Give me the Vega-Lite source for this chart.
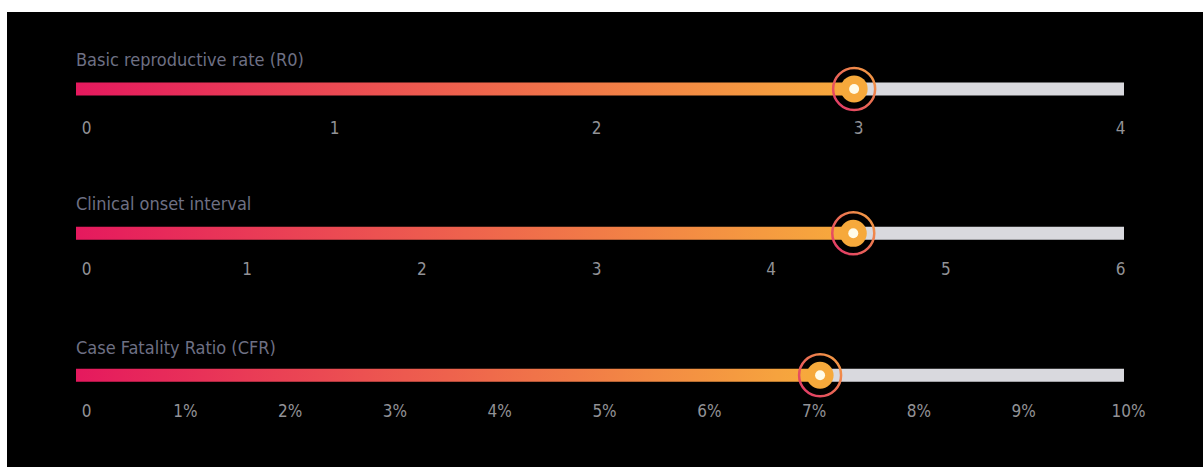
{
  "$schema": "https://vega.github.io/schema/vega-lite/v6.json",
  "background": "white",
  "padding": {"left": 7, "top": 12, "right": 0, "bottom": 0},
  "spacing": 0,
  "config": {
    "view": {"fill": "black", "stroke": null},
    "axis": {
      "domain": false, "ticks": false, "grid": false,
      "labelFont": "Liberation Sans Narrow, DejaVu Sans Condensed, sans-serif",
      "labelFontSize": 17, "labelColor": "#929296", "labelPadding": 0, "labelBaseline": "middle"
    },
    "text": {"font": "Liberation Sans Narrow, DejaVu Sans Condensed, sans-serif", "fontSize": 18, "color": "#6e7084", "align": "left", "baseline": "middle"}
  },
  "vconcat": [
    {
      "width": 1196, "height": 148,
      "data": {"values": [{"metric": "Basic reproductive rate (R0)", "value": 2.97, "max": 4}]},
      "resolve": {"axis": {"x": "independent"}},
      "layer": [
        {"mark": {"type": "bar", "orient": "horizontal", "size": 13, "fill": "#d9d9de"},
         "encoding": {
           "x": {"field": "value", "type": "quantitative", "title": null, "scale": {"domain": [-0.26336, 4.30153], "nice": false, "zero": false},
                 "axis": {"values": [1, 2, 3, 4], "offset": -32, "labelOffset": -4, "labelExpr": "'' + datum.value"}},
           "x2": {"field": "max"},
           "y": {"datum": 0.5236, "type": "quantitative", "title": null, "scale": {"domain": [0, 1], "reverse": true}, "axis": null}
         }},
        {"mark": {"type": "bar", "orient": "horizontal", "size": 13, "fill": {"gradient": "linear", "x1": 0, "y1": 0, "x2": 1, "y2": 0, "stops": [{"offset": 0, "color": "#e5195e"}, {"offset": 1, "color": "#f7ab3c"}]}},
         "encoding": {
           "x": {"field": "value", "type": "quantitative", "title": null, "axis": {"orient": "top", "values": [0], "offset": -116, "labelOffset": 10, "labelExpr": "'' + datum.value"}},
           "y": {"datum": 0.5236, "type": "quantitative"}
         }},
        {"mark": {"type": "point", "shape": "circle", "filled": false, "size": 1764, "strokeWidth": 2.5, "opacity": 1,
                  "stroke": {"gradient": "linear", "x1": 0, "y1": 1, "x2": 1, "y2": 0, "stops": [{"offset": 0, "color": "#e0306a"}, {"offset": 1, "color": "#f5a540"}]}},
         "encoding": {"x": {"field": "value", "type": "quantitative", "axis": null}, "y": {"datum": 0.5236, "type": "quantitative"}}},
        {"mark": {"type": "point", "shape": "circle", "filled": true, "size": 729, "fill": "#f6a93b", "opacity": 1},
         "encoding": {"x": {"field": "value", "type": "quantitative", "axis": null}, "y": {"datum": 0.5236, "type": "quantitative"}}},
        {"mark": {"type": "point", "shape": "circle", "filled": true, "size": 100, "fill": "#fffbe8", "opacity": 1},
         "encoding": {"x": {"field": "value", "type": "quantitative", "axis": null}, "y": {"datum": 0.5236, "type": "quantitative"}}},
        {"mark": {"type": "text"},
         "encoding": {"x": {"datum": 0, "type": "quantitative", "axis": null}, "y": {"datum": 0.2973, "type": "quantitative"}, "text": {"field": "metric", "type": "nominal"}}}
      ]
    },
    {
      "width": 1196, "height": 145,
      "data": {"values": [{"metric": "Clinical onset interval", "value": 4.45, "max": 6}]},
      "resolve": {"axis": {"x": "independent"}},
      "layer": [
        {"mark": {"type": "bar", "orient": "horizontal", "size": 13, "fill": "#d9d9de"},
         "encoding": {
           "x": {"field": "value", "type": "quantitative", "title": null, "scale": {"domain": [-0.39504, 6.45229], "nice": false, "zero": false},
                 "axis": {"values": [1, 2, 3, 4, 5, 6], "offset": -36, "labelOffset": -4, "labelExpr": "'' + datum.value"}},
           "x2": {"field": "max"},
           "y": {"datum": 0.5069, "type": "quantitative", "title": null, "scale": {"domain": [0, 1], "reverse": true}, "axis": null}
         }},
        {"mark": {"type": "bar", "orient": "horizontal", "size": 13, "fill": {"gradient": "linear", "x1": 0, "y1": 0, "x2": 1, "y2": 0, "stops": [{"offset": 0, "color": "#e5195e"}, {"offset": 1, "color": "#f7ab3c"}]}},
         "encoding": {
           "x": {"field": "value", "type": "quantitative", "title": null, "axis": {"orient": "top", "values": [0], "offset": -109, "labelOffset": 10, "labelExpr": "'' + datum.value"}},
           "y": {"datum": 0.5069, "type": "quantitative"}
         }},
        {"mark": {"type": "point", "shape": "circle", "filled": false, "size": 1764, "strokeWidth": 2.5, "opacity": 1,
                  "stroke": {"gradient": "linear", "x1": 0, "y1": 1, "x2": 1, "y2": 0, "stops": [{"offset": 0, "color": "#e0306a"}, {"offset": 1, "color": "#f5a540"}]}},
         "encoding": {"x": {"field": "value", "type": "quantitative", "axis": null}, "y": {"datum": 0.5069, "type": "quantitative"}}},
        {"mark": {"type": "point", "shape": "circle", "filled": true, "size": 729, "fill": "#f6a93b", "opacity": 1},
         "encoding": {"x": {"field": "value", "type": "quantitative", "axis": null}, "y": {"datum": 0.5069, "type": "quantitative"}}},
        {"mark": {"type": "point", "shape": "circle", "filled": true, "size": 100, "fill": "#fffbe8", "opacity": 1},
         "encoding": {"x": {"field": "value", "type": "quantitative", "axis": null}, "y": {"datum": 0.5069, "type": "quantitative"}}},
        {"mark": {"type": "text"},
         "encoding": {"x": {"datum": 0, "type": "quantitative", "axis": null}, "y": {"datum": 0.2759, "type": "quantitative"}, "text": {"field": "metric", "type": "nominal"}}}
      ]
    },
    {
      "width": 1196, "height": 162,
      "data": {"values": [{"metric": "Case Fatality Ratio (CFR)", "value": 7.1, "max": 10}]},
      "resolve": {"axis": {"x": "independent"}},
      "layer": [
        {"mark": {"type": "bar", "orient": "horizontal", "size": 13, "fill": "#d9d9de"},
         "encoding": {
           "x": {"field": "value", "type": "quantitative", "title": null, "scale": {"domain": [-0.6584, 10.75382], "nice": false, "zero": false},
                 "axis": {"values": [1, 2, 3, 4, 5, 6, 7, 8, 9, 10], "offset": -56, "labelOffset": 4,
                          "labelExpr": "datum.value + '%'"}},
           "x2": {"field": "max"},
           "y": {"datum": 0.4198, "type": "quantitative", "title": null, "scale": {"domain": [0, 1], "reverse": true}, "axis": null}
         }},
        {"mark": {"type": "bar", "orient": "horizontal", "size": 13, "fill": {"gradient": "linear", "x1": 0, "y1": 0, "x2": 1, "y2": 0, "stops": [{"offset": 0, "color": "#e5195e"}, {"offset": 1, "color": "#f7ab3c"}]}},
         "encoding": {
           "x": {"field": "value", "type": "quantitative", "title": null, "axis": {"orient": "top", "values": [0], "offset": -106, "labelOffset": 10, "labelExpr": "'' + datum.value"}},
           "y": {"datum": 0.4198, "type": "quantitative"}
         }},
        {"mark": {"type": "point", "shape": "circle", "filled": false, "size": 1764, "strokeWidth": 2.5, "opacity": 1,
                  "stroke": {"gradient": "linear", "x1": 0, "y1": 1, "x2": 1, "y2": 0, "stops": [{"offset": 0, "color": "#e0306a"}, {"offset": 1, "color": "#f5a540"}]}},
         "encoding": {"x": {"field": "value", "type": "quantitative", "axis": null}, "y": {"datum": 0.4198, "type": "quantitative"}}},
        {"mark": {"type": "point", "shape": "circle", "filled": true, "size": 729, "fill": "#f6a93b", "opacity": 1},
         "encoding": {"x": {"field": "value", "type": "quantitative", "axis": null}, "y": {"datum": 0.4198, "type": "quantitative"}}},
        {"mark": {"type": "point", "shape": "circle", "filled": true, "size": 100, "fill": "#fffbe8", "opacity": 1},
         "encoding": {"x": {"field": "value", "type": "quantitative", "axis": null}, "y": {"datum": 0.4198, "type": "quantitative"}}},
        {"mark": {"type": "text"},
         "encoding": {"x": {"datum": 0, "type": "quantitative", "axis": null}, "y": {"datum": 0.2284, "type": "quantitative"}, "text": {"field": "metric", "type": "nominal"}}}
      ]
    }
  ]
}
